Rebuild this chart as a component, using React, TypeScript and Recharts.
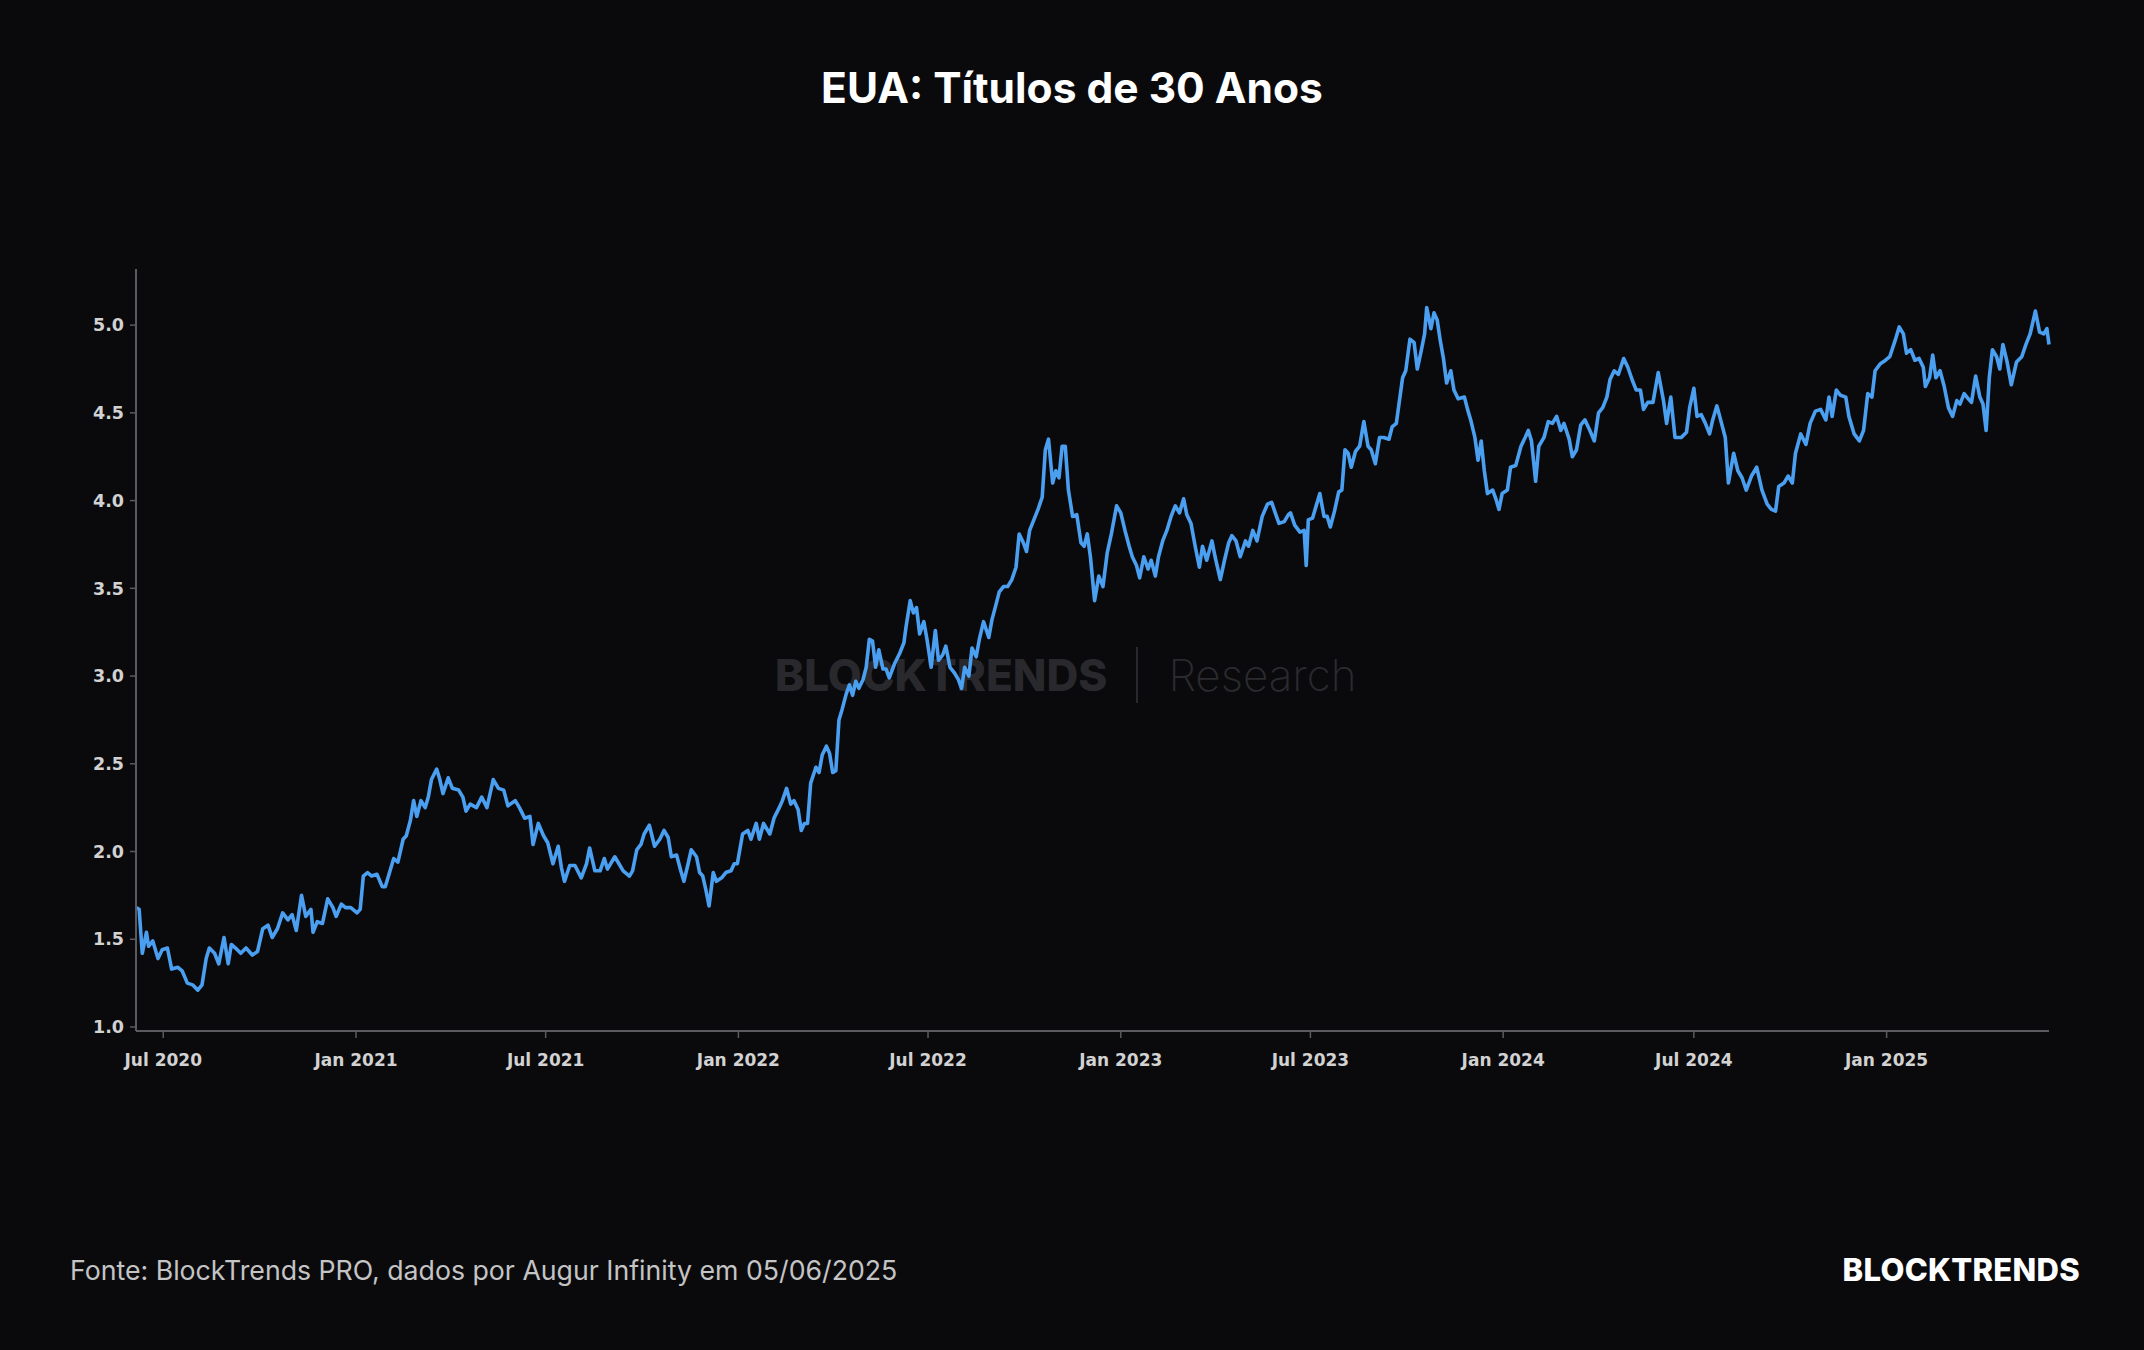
import React from 'react';
import { LineChart, Line, XAxis, YAxis } from 'recharts';

const dates: string[] = [
  '2020-06-05','2020-06-08','2020-06-11','2020-06-15','2020-06-17','2020-06-21','2020-06-26','2020-06-30','2020-07-05','2020-07-09',
  '2020-07-15','2020-07-19','2020-07-24','2020-07-29','2020-08-03','2020-08-07','2020-08-11','2020-08-14','2020-08-19','2020-08-23',
  '2020-08-28','2020-09-01','2020-09-04','2020-09-08','2020-09-13','2020-09-18','2020-09-24','2020-09-29','2020-10-04','2020-10-09',
  '2020-10-13','2020-10-18','2020-10-23','2020-10-28','2020-11-01','2020-11-05','2020-11-10','2020-11-14','2020-11-19','2020-11-21',
  '2020-11-25','2020-11-30','2020-12-05','2020-12-10','2020-12-13','2020-12-18','2020-12-22','2020-12-27','2021-01-02','2021-01-05',
  '2021-01-08','2021-01-12','2021-01-16','2021-01-21','2021-01-26','2021-01-29','2021-02-02','2021-02-06','2021-02-10','2021-02-15',
  '2021-02-18','2021-02-22','2021-02-25','2021-02-28','2021-03-04','2021-03-08','2021-03-11','2021-03-14','2021-03-19','2021-03-22',
  '2021-03-25','2021-03-30','2021-04-03','2021-04-09','2021-04-13','2021-04-16','2021-04-20','2021-04-26','2021-05-01','2021-05-06',
  '2021-05-12','2021-05-17','2021-05-22','2021-05-26','2021-06-02','2021-06-06',
  '2021-06-11','2021-06-16','2021-06-19','2021-06-24','2021-06-29','2021-07-03','2021-07-08','2021-07-13','2021-07-16','2021-07-19',
  '2021-07-24','2021-07-29','2021-08-04','2021-08-09','2021-08-12','2021-08-17','2021-08-22','2021-08-26','2021-08-29','2021-09-05',
  '2021-09-09','2021-09-13','2021-09-19','2021-09-22','2021-09-26','2021-09-30','2021-10-03','2021-10-08','2021-10-13','2021-10-18',
  '2021-10-22','2021-10-26','2021-10-29','2021-11-03','2021-11-07','2021-11-10','2021-11-14','2021-11-17','2021-11-22','2021-11-25',
  '2021-11-28','2021-12-01','2021-12-04','2021-12-08','2021-12-11','2021-12-16','2021-12-20','2021-12-25','2021-12-28','2021-12-31',
  '2022-01-05','2022-01-10','2022-01-13','2022-01-18','2022-01-21','2022-01-25','2022-01-31','2022-02-04','2022-02-09','2022-02-12',
  '2022-02-16','2022-02-20','2022-02-23','2022-02-27','2022-03-02','2022-03-05','2022-03-08','2022-03-11','2022-03-16','2022-03-19',
  '2022-03-22','2022-03-26','2022-03-29','2022-04-01','2022-04-04','2022-04-07','2022-04-10','2022-04-14','2022-04-17','2022-04-20',
  '2022-04-23','2022-04-26','2022-04-30','2022-05-03','2022-05-06','2022-05-09','2022-05-12','2022-05-15','2022-05-19','2022-05-22',
  '2022-05-25','2022-05-30','2022-06-04','2022-06-08',
  '2022-06-10','2022-06-14','2022-06-17','2022-06-20','2022-06-23','2022-06-27','2022-06-30','2022-07-04','2022-07-08','2022-07-11',
  '2022-07-15','2022-07-18','2022-07-22','2022-07-26','2022-07-30','2022-08-02','2022-08-05','2022-08-09','2022-08-12','2022-08-16',
  '2022-08-19','2022-08-23','2022-08-28','2022-08-31','2022-09-04','2022-09-07','2022-09-11','2022-09-15','2022-09-19','2022-09-23',
  '2022-09-26','2022-09-30','2022-10-03','2022-10-06','2022-10-10','2022-10-14','2022-10-18','2022-10-21','2022-10-24','2022-10-28',
  '2022-10-31','2022-11-03','2022-11-06','2022-11-09','2022-11-12','2022-11-16','2022-11-20','2022-11-24','2022-11-27','2022-11-30',
  '2022-12-03','2022-12-07','2022-12-11','2022-12-15','2022-12-19','2022-12-23','2022-12-28','2023-01-01','2023-01-05','2023-01-09',
  '2023-01-12','2023-01-16','2023-01-19','2023-01-23','2023-01-27','2023-01-30','2023-02-03','2023-02-06','2023-02-10','2023-02-14',
  '2023-02-18','2023-02-22','2023-02-26','2023-03-02','2023-03-05','2023-03-09','2023-03-13','2023-03-17','2023-03-20','2023-03-24',
  '2023-03-29','2023-04-01','2023-04-06','2023-04-10','2023-04-14','2023-04-17','2023-04-21','2023-04-25','2023-04-30','2023-05-03',
  '2023-05-07','2023-05-11','2023-05-16','2023-05-21','2023-05-25','2023-05-29','2023-06-01','2023-06-06','2023-06-10',
  '2023-06-12','2023-06-16','2023-06-21','2023-06-25','2023-06-27','2023-06-29','2023-07-03','2023-07-06','2023-07-10','2023-07-14',
  '2023-07-17','2023-07-20','2023-07-24','2023-07-28','2023-07-31','2023-08-03','2023-08-06','2023-08-09','2023-08-13','2023-08-17',
  '2023-08-21','2023-08-25','2023-08-28','2023-09-01','2023-09-05','2023-09-09','2023-09-14','2023-09-17','2023-09-21','2023-09-24',
  '2023-09-27','2023-09-30','2023-10-04','2023-10-08','2023-10-11','2023-10-15','2023-10-18','2023-10-20','2023-10-24','2023-10-27',
  '2023-10-30','2023-11-02','2023-11-05','2023-11-08','2023-11-12','2023-11-15','2023-11-19','2023-11-25','2023-11-28','2023-12-01',
  '2023-12-05','2023-12-08','2023-12-11','2023-12-14','2023-12-17','2023-12-22','2023-12-25','2023-12-28','2023-12-31','2024-01-05',
  '2024-01-08','2024-01-13','2024-01-18','2024-01-22','2024-01-25','2024-01-28','2024-02-01','2024-02-04','2024-02-09','2024-02-13',
  '2024-02-17','2024-02-21','2024-02-25','2024-02-28','2024-03-04','2024-03-07','2024-03-11','2024-03-15','2024-03-19','2024-03-23',
  '2024-03-28','2024-04-01','2024-04-05','2024-04-09','2024-04-12','2024-04-16','2024-04-20','2024-04-25','2024-04-29','2024-05-03',
  '2024-05-07','2024-05-11','2024-05-14','2024-05-18','2024-05-23','2024-05-28','2024-06-02','2024-06-05','2024-06-09',
  '2024-06-13','2024-06-19','2024-06-24','2024-06-27','2024-07-01','2024-07-04','2024-07-08','2024-07-12','2024-07-16','2024-07-19',
  '2024-07-23','2024-07-27','2024-07-31','2024-08-03','2024-08-08','2024-08-12','2024-08-16','2024-08-20','2024-08-25','2024-08-30',
  '2024-09-04','2024-09-09','2024-09-13','2024-09-17','2024-09-20','2024-09-25','2024-09-29','2024-10-03','2024-10-06','2024-10-11',
  '2024-10-16','2024-10-20','2024-10-25','2024-10-30','2024-11-04','2024-11-07','2024-11-10','2024-11-14','2024-11-18','2024-11-23',
  '2024-11-26','2024-12-01','2024-12-06','2024-12-10','2024-12-14','2024-12-18','2024-12-21','2024-12-26','2024-12-31','2025-01-04',
  '2025-01-09','2025-01-13','2025-01-17','2025-01-20','2025-01-24','2025-01-28','2025-02-01','2025-02-05','2025-02-07','2025-02-11',
  '2025-02-14','2025-02-17','2025-02-21','2025-02-25','2025-03-01','2025-03-05','2025-03-09','2025-03-12','2025-03-16','2025-03-20',
  '2025-03-23','2025-03-27','2025-03-31','2025-04-03','2025-04-06','2025-04-09','2025-04-12','2025-04-16','2025-04-19','2025-04-22',
  '2025-04-26','2025-04-30','2025-05-05','2025-05-10','2025-05-14','2025-05-18','2025-05-23','2025-05-27','2025-05-31','2025-06-03',
  '2025-06-05',
];

const yields: number[] = [
  1.68,1.67,1.42,1.54,1.46,1.49,1.39,1.44,1.45,1.33,
  1.34,1.32,1.25,1.24,1.21,1.24,1.39,1.45,1.42,1.36,
  1.51,1.36,1.47,1.45,1.42,1.45,1.41,1.43,1.56,1.58,
  1.51,1.56,1.65,1.61,1.64,1.55,1.75,1.63,1.67,1.54,
  1.60,1.59,1.73,1.68,1.63,1.70,1.68,1.68,1.65,1.67,
  1.86,1.88,1.86,1.87,1.80,1.80,1.88,1.96,1.94,2.07,
  2.09,2.18,2.29,2.20,2.29,2.25,2.31,2.41,2.47,2.41,
  2.33,2.42,2.36,2.35,2.31,2.23,2.27,2.25,2.31,2.25,
  2.41,2.36,2.35,2.26,2.29,2.25,
  2.19,2.20,2.04,2.16,2.09,2.05,1.93,2.03,1.91,1.83,
  1.92,1.92,1.85,1.93,2.02,1.89,1.89,1.96,1.90,1.97,
  1.93,1.89,1.86,1.89,2.01,2.04,2.10,2.15,2.03,2.07,
  2.12,2.08,1.97,1.98,1.89,1.83,1.93,2.01,1.97,1.88,
  1.86,1.78,1.69,1.88,1.83,1.85,1.88,1.89,1.93,1.93,
  2.10,2.12,2.07,2.16,2.07,2.16,2.10,2.19,2.25,2.29,
  2.36,2.27,2.29,2.24,2.12,2.16,2.16,2.39,2.48,2.45,
  2.55,2.60,2.56,2.45,2.46,2.75,2.81,2.90,2.95,2.89,
  2.97,2.93,2.98,3.05,3.21,3.20,3.05,3.15,3.04,3.04,
  2.99,3.07,3.13,3.19,
  3.28,3.43,3.36,3.39,3.24,3.31,3.21,3.05,3.26,3.09,
  3.12,3.17,3.05,3.02,2.98,2.93,3.05,3.00,3.16,3.11,
  3.21,3.31,3.22,3.32,3.41,3.48,3.51,3.51,3.55,3.62,
  3.81,3.76,3.71,3.83,3.89,3.95,4.02,4.29,4.35,4.10,
  4.17,4.13,4.31,4.31,4.06,3.91,3.92,3.76,3.74,3.81,
  3.68,3.43,3.57,3.51,3.70,3.81,3.97,3.93,3.83,3.74,
  3.68,3.63,3.56,3.68,3.61,3.66,3.57,3.68,3.77,3.83,
  3.91,3.97,3.93,4.01,3.92,3.87,3.74,3.62,3.74,3.66,
  3.77,3.68,3.55,3.66,3.76,3.80,3.77,3.68,3.77,3.74,
  3.83,3.77,3.91,3.98,3.99,3.92,3.87,3.88,3.92,
  3.93,3.86,3.82,3.83,3.63,3.89,3.90,3.96,4.04,3.91,
  3.91,3.85,3.94,4.05,4.06,4.29,4.27,4.19,4.28,4.31,
  4.45,4.31,4.29,4.21,4.36,4.36,4.35,4.42,4.44,4.57,
  4.70,4.74,4.92,4.90,4.75,4.86,4.95,5.10,4.98,5.07,
  5.03,4.91,4.81,4.67,4.74,4.63,4.58,4.59,4.52,4.46,
  4.36,4.23,4.34,4.17,4.04,4.06,4.01,3.95,4.04,4.06,
  4.19,4.20,4.31,4.36,4.40,4.34,4.11,4.31,4.36,4.45,
  4.44,4.48,4.40,4.44,4.35,4.25,4.29,4.43,4.46,4.41,
  4.34,4.50,4.53,4.59,4.69,4.74,4.72,4.81,4.76,4.69,
  4.63,4.63,4.52,4.56,4.56,4.73,4.57,4.44,4.59,
  4.36,4.36,4.39,4.53,4.64,4.48,4.49,4.44,4.38,4.46,
  4.54,4.45,4.36,4.10,4.27,4.17,4.13,4.06,4.14,4.19,
  4.06,3.98,3.95,3.94,4.08,4.10,4.14,4.10,4.27,4.38,
  4.32,4.44,4.51,4.52,4.46,4.59,4.48,4.63,4.60,4.59,
  4.48,4.38,4.34,4.40,4.61,4.59,4.74,4.78,4.80,4.82,
  4.91,4.99,4.95,4.84,4.86,4.80,4.81,4.76,4.65,4.70,
  4.83,4.70,4.74,4.65,4.53,4.48,4.57,4.55,4.61,4.58,
  4.56,4.71,4.59,4.55,4.40,4.70,4.86,4.82,4.75,4.89,
  4.79,4.66,4.79,4.82,4.89,4.95,5.08,4.96,4.95,4.98,
  4.89,
];

const xTickDates: string[] = ['2020-07-01','2021-01-01','2021-07-01','2022-01-01','2022-07-01','2023-01-01','2023-07-01','2024-01-01','2024-07-01','2025-01-01'];
const xTickLabels: string[] = ['Jul 2020','Jan 2021','Jul 2021','Jan 2022','Jul 2022','Jan 2023','Jul 2023','Jan 2024','Jul 2024','Jan 2025'];
const yTicks: number[] = [1.0, 1.5, 2.0, 2.5, 3.0, 3.5, 4.0, 4.5, 5.0];

const title = 'EUA: Títulos de 30 Anos';
const source = 'Fonte: BlockTrends PRO, dados por Augur Infinity em 05/06/2025';
const brand = 'BLOCKTRENDS';

const data = dates.map((d, i) => ({ t: Date.parse(d), v: yields[i] }));
const xTicks = xTickDates.map((d) => Date.parse(d));

const BG = '#0a0a0d';
const AXIS = '#5a5a5f';
const TICK_TEXT = '#d2d2d2';

export default function App() {
  const xTickStyle = { fill: TICK_TEXT, fontSize: 17, fontFamily: '"DejaVu Sans", sans-serif', fontWeight: 700 };
  const yTickStyle = { fill: TICK_TEXT, fontSize: 17.5, fontFamily: '"DejaVu Sans", sans-serif', fontWeight: 700 };
  return (
    <div style={{ position: 'absolute', left: 0, top: 0, width: 2144, height: 1350, background: BG, overflow: 'hidden' }}>
      <div style={{ position: 'absolute', left: 0, top: 60, width: 2144, textAlign: 'center', color: '#ffffff', fontFamily: 'Inter, sans-serif', fontWeight: 700, fontSize: 42.5, lineHeight: '56px' }}>
        {title}
      </div>
      {/* watermark */}
      <div style={{ position: 'absolute', left: 775, top: 645, height: 60, display: 'flex', alignItems: 'center', fontFamily: 'Inter, sans-serif', fontSize: 44, whiteSpace: 'nowrap' }}>
        <span style={{ color: '#29292d', fontWeight: 800 }}>BLOCKTRENDS</span>
        <span style={{ display: 'inline-block', width: 2, height: 56, background: '#29292d', margin: '0 30px 0 29px' }} />
        <span style={{ color: '#2b2b2f', fontWeight: 200 }}>Research</span>
      </div>
      <div style={{ position: 'absolute', left: 0, top: 0 }}>
        <LineChart width={2144} height={1350} data={data} margin={{ top: 269, right: 95, bottom: 259, left: 0 }}>
          <XAxis
            dataKey="t"
            type="number"
            scale="time"
            domain={['dataMin', 'dataMax']}
            ticks={xTicks}
            tickFormatter={(t: number) => xTickLabels[xTicks.indexOf(t)] ?? ''}
            height={60}
            tickSize={7}
            tickMargin={16}
            axisLine={{ stroke: AXIS, strokeWidth: 2 }}
            tickLine={{ stroke: AXIS, strokeWidth: 1.5 }}
            tick={xTickStyle}
            interval={0}
          />
          <YAxis
            type="number"
            domain={[0.977, 5.32]}
            allowDataOverflow
            ticks={yTicks}
            tickFormatter={(v: number) => v.toFixed(1)}
            width={136}
            tickSize={6}
            tickMargin={6}
            axisLine={{ stroke: AXIS, strokeWidth: 2 }}
            tickLine={{ stroke: AXIS, strokeWidth: 1.5 }}
            tick={yTickStyle}
            interval={0}
          />
          <Line type="linear" dataKey="v" stroke="#4a9ff0" strokeWidth={3.6} dot={false} isAnimationActive={false} strokeLinejoin="round" />
        </LineChart>
      </div>
      <div style={{ position: 'absolute', left: 70, top: 1253, color: '#c4c4c4', fontFamily: 'Inter, sans-serif', fontSize: 26.7, lineHeight: '34px', whiteSpace: 'nowrap' }}>
        {source}
      </div>
      <div style={{ position: 'absolute', right: 2144 - 2080, top: 1252, color: '#ffffff', fontFamily: 'Inter, sans-serif', fontWeight: 800, fontSize: 31, lineHeight: '36px', whiteSpace: 'nowrap', letterSpacing: 0.3 }}>
        {brand}
      </div>
    </div>
  );
}
